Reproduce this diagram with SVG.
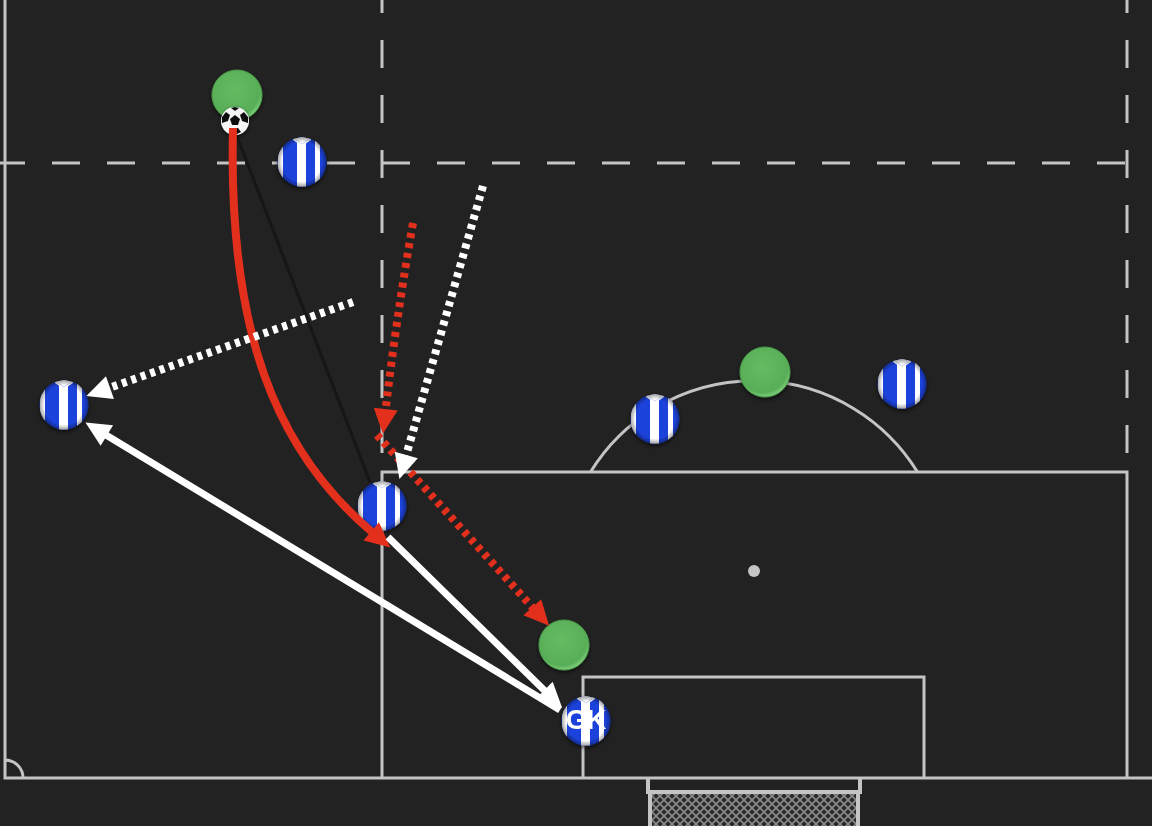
<svg xmlns="http://www.w3.org/2000/svg" xmlns:xlink="http://www.w3.org/1999/xlink" width="1152" height="826" viewBox="0 0 1152 826">
<style>
.ln{fill:none;stroke:#c4c4c4;stroke-width:3}
.dash{fill:none;stroke:#c4c4c4;stroke-width:3;stroke-dasharray:28 27}
.red{fill:none;stroke:#e3301d;stroke-width:8}
.redd{fill:none;stroke:#e3301d;stroke-width:8;stroke-dasharray:5 5}
.whd{fill:none;stroke:#ffffff;stroke-width:8;stroke-dasharray:5 5}
.whs{fill:none;stroke:#ffffff;stroke-width:7}
.gk{font-family:"Liberation Sans",Arial,sans-serif;font-weight:bold;font-size:27px;fill:#ffffff;text-anchor:middle}
</style>
<defs>
<pattern id="net" width="8" height="8" patternUnits="userSpaceOnUse">
<rect width="8" height="8" fill="#2a2a2a"/>
<path d="M0,0 L8,8 M8,0 L0,8" stroke="#8a8a8a" stroke-width="1.6"/>
</pattern>
<radialGradient id="gr" cx="0.45" cy="0.4" r="0.6">
<stop offset="0" stop-color="#64bb62"/>
<stop offset="0.85" stop-color="#58ae57"/>
<stop offset="1" stop-color="#7fcf7c"/>
</radialGradient>
<radialGradient id="gloss" cx="0.5" cy="0.5" r="0.5">
<stop offset="0.8" stop-color="#000" stop-opacity="0"/>
<stop offset="1" stop-color="#000" stop-opacity="0.35"/>
</radialGradient>
<filter id="sh" x="-50%" y="-50%" width="200%" height="200%">
<feDropShadow dx="0" dy="2" stdDeviation="2" flood-color="#000" flood-opacity="0.6"/>
</filter>
<clipPath id="jc"><circle r="24.5"/></clipPath>
<g id="jersey">
<g clip-path="url(#jc)">
<rect x="-26" y="-26" width="52" height="52" fill="#1d43dc"/>
<rect x="-24" y="-26" width="5" height="52" fill="#ffffff"/>
<rect x="-5" y="-26" width="9" height="52" fill="#ffffff"/>
<rect x="13" y="-26" width="5" height="52" fill="#ffffff"/>
<path d="M-9,-26 L-9,-22 L0,-16 L9,-22 L9,-26 Z" fill="#ffffff"/>
<path d="M-6,-22 L0,-18 L6,-22" fill="none" stroke="#c9d2f5" stroke-width="1"/>
</g>
<circle r="24.5" fill="url(#gloss)"/>
</g>
<marker id="ar" viewBox="0 -12 26 24" refX="1" refY="0" markerWidth="26" markerHeight="24" markerUnits="userSpaceOnUse" orient="auto" overflow="visible">
<path d="M0,-12 L25,0 L0,12 Z" fill="#e3301d"/>
</marker>
<marker id="aw" viewBox="0 -12 26 24" refX="1" refY="0" markerWidth="26" markerHeight="24" markerUnits="userSpaceOnUse" orient="auto" overflow="visible">
<path d="M0,-12 L25,0 L0,12 Z" fill="#ffffff"/>
</marker>
</defs>

<rect width="1152" height="826" fill="#222222"/>

<g id="pitch">
<path class="ln" d="M5,0 V778 H1152"/>
<path class="ln" d="M5,760 A18,18 0 0 1 23,778"/>
<path class="ln" d="M382,778 V472 H1127 V778"/>
<path class="ln" d="M583,778 V677 H924 V778"/>
<path class="ln" d="M590.5,472 A192,192 0 0 1 917.5,472"/>
<circle cx="754" cy="571" r="6" fill="#c4c4c4"/>
<path class="dash" d="M-3,163 H1152"/>
<path class="dash" d="M382,-15 V472"/>
<path class="dash" d="M1127,-15 V472"/>
<rect x="650" y="793" width="208" height="40" fill="url(#net)"/>
<path d="M648,778 V792 H860 V778 M650,792 V826 M858,792 V826" fill="none" stroke="#c4c4c4" stroke-width="4"/>
</g>

<g id="shot-line">
<path d="M233,126 L370,482" fill="none" stroke="#161616" stroke-width="3"/>
</g>

<g id="players">
<g id="g1" filter="url(#sh)"><circle cx="237" cy="95" r="25" fill="url(#gr)" stroke="#4b9a4a" stroke-width="1"/></g>
<g id="ball" filter="url(#sh)">
<circle cx="235" cy="121" r="14" fill="#f4f4f4"/>
<polygon points="235,115 240,119 238,125 232,125 230,119" fill="#111"/>
<path d="M222,117 L226,112 L230,115 L228,121 L222,123 Z" fill="#111"/>
<path d="M248,117 L244,112 L240,115 L242,121 L248,123 Z" fill="#111"/>
<path d="M229,132 L232,128 L238,128 L241,132 L235,135 Z" fill="#111"/>
<path d="M231,108 L235,107 L239,108 L235,111 Z" fill="#111"/>
</g>
<g id="g2" filter="url(#sh)"><circle cx="765" cy="372" r="25" fill="url(#gr)" stroke="#4b9a4a" stroke-width="1"/></g>
<g id="g3" filter="url(#sh)"><circle cx="564" cy="645" r="25" fill="url(#gr)" stroke="#4b9a4a" stroke-width="1"/></g>
<g id="j1" filter="url(#sh)"><use xlink:href="#jersey" x="302" y="162"/></g>
<g id="j2" filter="url(#sh)"><use xlink:href="#jersey" x="64" y="405"/></g>
<g id="j3" filter="url(#sh)"><use xlink:href="#jersey" x="655" y="419"/></g>
<g id="j4" filter="url(#sh)"><use xlink:href="#jersey" x="902" y="384"/></g>
<g id="j5" filter="url(#sh)"><use xlink:href="#jersey" x="382" y="506"/></g>
<g id="gk" filter="url(#sh)"><use xlink:href="#jersey" x="586" y="721"/><text class="gk" x="586" y="729">GK</text></g>
</g>

<g id="connectors">
<path class="red" d="M233,128 C228,330 275,450 372,532" marker-end="url(#ar)"/>
<path class="redd" d="M413,223 Q396,320 385.6,410" marker-end="url(#ar)"/>
<path class="redd" d="M377,435 L533,608" marker-end="url(#ar)"/>
<path class="whd" d="M483,186 L406,456" marker-end="url(#aw)"/>
<path class="whd" d="M353,302 L109,388" marker-end="url(#aw)"/>
<path class="whs" d="M388,537 L545,691" marker-end="url(#aw)"/>
<path class="whs" d="M560,710 L106,435" marker-end="url(#aw)"/>
</g>
</svg>
